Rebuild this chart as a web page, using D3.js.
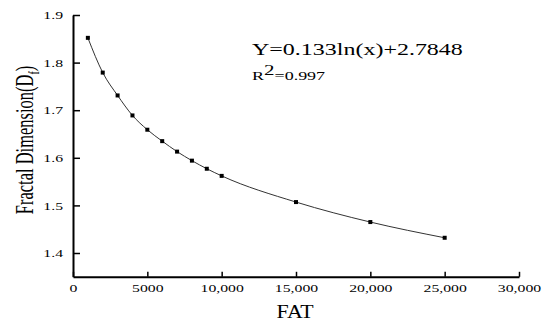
<!DOCTYPE html>
<html>
<head>
<meta charset="utf-8">
<script src="https://cdn.jsdelivr.net/npm/d3@7"></script>
<style>
    body { margin: 0; background: #fff; }
    svg text { font-family: "Liberation Serif", "DejaVu Serif", serif; fill: #000; }
</style>
</head>
<body>
<svg id="chart" width="550" height="328"></svg>
<script>
// data
var fatValues = [1000, 2000, 3000, 4000, 5000, 6000, 7000, 8000, 9000, 10000, 15000, 20000, 25000];
var dfValues = [1.852, 1.779, 1.731, 1.689, 1.659, 1.635, 1.613, 1.594, 1.577, 1.562, 1.507, 1.465, 1.432];
var xTicks = [0, 5000, 10000, 15000, 20000, 25000, 30000];
var xTickLabels = ["0", "5000", "10,000", "15,000", "20,000", "25,000", "30,000"];
var yTicks = [1.4, 1.5, 1.6, 1.7, 1.8, 1.9];

// the original picture is stretched sideways, text too
var stretch = 1.5;

var svg = d3.select("#chart");

var x = d3.scaleLinear().domain([0, 30000]).range([73, 519]);
var y = d3.scaleLinear().domain([1.35, 1.9]).range([276.8, 15]);

//x轴
var xAxis = svg.append("g")
    .attr("transform", "translate(0," + y(1.35) + ")")
    .call(d3.axisBottom(x)
        .tickValues(xTicks)
        .tickSizeInner(-5)
        .tickSizeOuter(0)
        .tickFormat(function (d, i) {
            return xTickLabels[i];
        }));
xAxis.select(".domain").attr("stroke", "#000").attr("stroke-width", 2);
xAxis.selectAll(".tick line").attr("stroke", "#000").attr("stroke-width", 1.5);
xAxis.selectAll(".tick text")
    .attr("y", 0)
    .attr("dy", 0)
    .attr("transform", "translate(0,15) scale(" + stretch + ",1)")
    .attr("font-size", 10.5);

//y轴
var yAxis = svg.append("g")
    .attr("transform", "translate(" + x(0) + ",0)")
    .call(d3.axisLeft(y)
        .tickValues(yTicks)
        .tickSizeInner(-7)
        .tickSizeOuter(0)
        .tickFormat(d3.format(".1f")));
yAxis.select(".domain").attr("stroke", "#000").attr("stroke-width", 2);
yAxis.selectAll(".tick line").attr("stroke", "#000").attr("stroke-width", 1.5);
yAxis.selectAll(".tick text")
    .attr("x", 0)
    .attr("dy", "0.35em")
    .attr("text-anchor", "end")
    .attr("transform", "translate(-10,0) scale(" + stretch + ",1)")
    .attr("font-size", 10.5);

//曲线
var line = d3.line()
    .x(function (d, i) { return x(fatValues[i]); })
    .y(function (d) { return y(d); })
    .curve(d3.curveMonotoneX);

svg.append("path")
    .datum(dfValues)
    .attr("d", line)
    .attr("fill", "none")
    .attr("stroke", "#333")
    .attr("stroke-width", 1);

svg.append("g")
    .selectAll("rect")
    .data(dfValues)
    .enter()
    .append("rect")
    .attr("x", function (d, i) { return x(fatValues[i]) - 2; })
    .attr("y", function (d) { return y(d) - 2; })
    .attr("width", 4)
    .attr("height", 4)
    .attr("fill", "#000");

//坐标轴标题
svg.append("text")
    .attr("transform", "translate(295,318) scale(1.15,1)")
    .attr("text-anchor", "middle")
    .attr("font-size", 19)
    .text("FAT");

var yTitle = svg.append("text")
    .attr("transform", "translate(33,140) scale(" + stretch + ",1) rotate(-90)")
    .attr("text-anchor", "middle")
    .attr("font-size", 16.5);
yTitle.append("tspan").text("Fractal Dimension(D");
yTitle.append("tspan").attr("font-size", 10).attr("dy", 4).text("f");
yTitle.append("tspan").attr("dy", -4).text(")");

//拟合公式
svg.append("text")
    .attr("transform", "translate(252,55) scale(" + stretch + ",1)")
    .attr("font-size", 16)
    .text("Y=0.133ln(x)+2.7848");

var r2 = svg.append("text")
    .attr("transform", "translate(252,80) scale(" + stretch + ",1)")
    .attr("font-size", 12);
r2.append("tspan").text("R");
r2.append("tspan").attr("font-size", 14).attr("dy", -5).text("2");
r2.append("tspan").attr("dy", 5).text("=0.997");
</script>
</body>
</html>
